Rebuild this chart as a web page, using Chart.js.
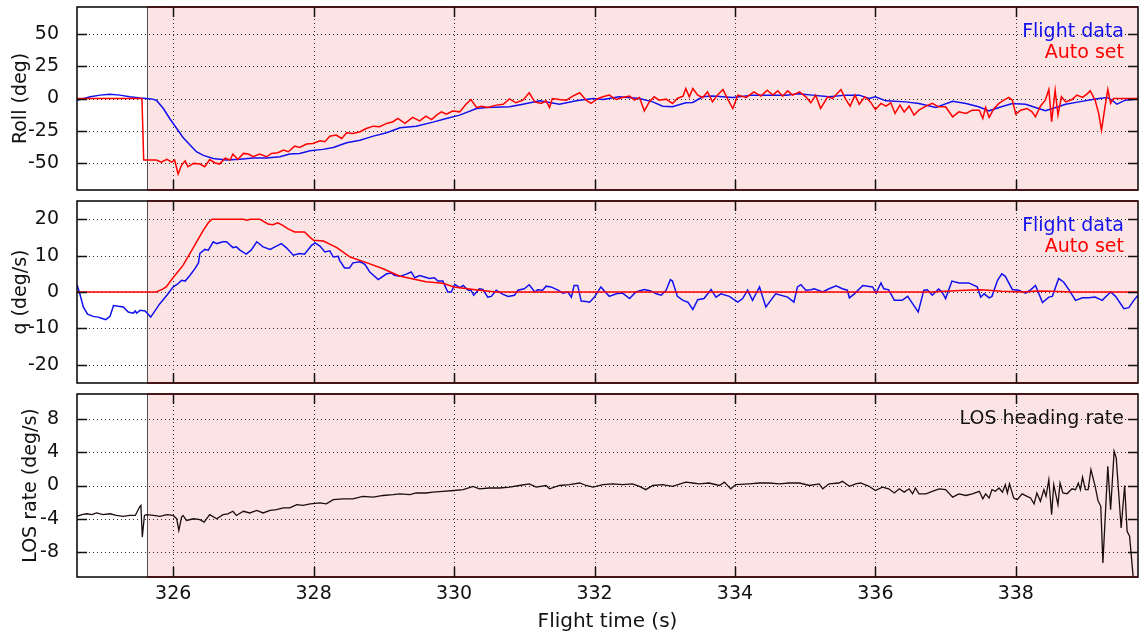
<!DOCTYPE html>
<html>
<head>
<meta charset="utf-8">
<script src="https://cdn.jsdelivr.net/npm/chart.js@4.4.1/dist/chart.umd.min.js"></script>
<style>
  html, body { margin: 0; padding: 0; background: #ffffff; }
  #wrap { position: relative; width: 1139px; height: 633px; overflow: hidden; }
  canvas { position: absolute; left: 0; }
</style>
</head>
<body>
<div id="wrap">
  <canvas id="rollChart" width="1139" height="194" style="top:0px"></canvas>
  <canvas id="qChart" width="1139" height="190" style="top:194px"></canvas>
  <canvas id="losChart" width="1139" height="246" style="top:387px"></canvas>
</div>
<script>
// ---- time axis ----
const timeMin = 324.63;
const timeMax = 339.74;
const autoStart = 325.63;           // start of the automatic-control interval
const timeTicks = [326, 328, 330, 332, 334, 336, 338];

// ---- tick labels for the three panels ----
const rollTicks = [-50, -25, 0, 25, 50];
const qTicks = [-20, -10, 0, 10, 20];
const losTicks = [-8, -4, 0, 4, 8];

// ---- Roll: flight data ----
const rollFlightT = [324.63,324.82,324.96,325.10,325.24,325.38,325.53,325.69,325.76,325.86,325.95,326.05,326.14,326.24,326.33,326.43,326.57,326.76,326.95,327.14,327.33,327.52,327.66,327.80,327.95,328.13,328.28,328.47,328.66,328.85,329.04,329.23,329.46,329.70,329.89,330.08,330.32,330.46,330.79,330.98,331.22,331.50,331.74,331.98,332.12,332.35,332.64,332.83,332.97,333.11,333.30,333.40,333.54,333.68,333.97,334.25,334.49,334.73,334.91,335.10,335.34,335.58,335.77,335.91,336.00,336.15,336.43,336.62,336.86,337.10,337.29,337.47,337.62,337.76,337.95,338.14,338.28,338.42,338.57,338.71,338.90,339.13,339.30,339.37,339.44,339.56,339.74];
const rollFlight = [-1.3,1.3,2.6,3.3,2.6,1.3,0.3,-0.3,-1.3,-7.7,-15.4,-23.1,-30.0,-35.9,-41.0,-43.8,-46.2,-47.4,-46.9,-45.9,-45.9,-44.9,-42.8,-42.3,-40.3,-39.2,-37.7,-34.1,-32.1,-29.0,-26.4,-22.6,-21.3,-18.2,-15.4,-12.8,-7.7,-6.9,-6.4,-4.4,-1.8,-4.4,-1.8,0,-0.8,1.3,0,-2.6,-5.9,-6.4,-3.3,-3.1,1.3,2.0,0.8,2.6,2.6,2.6,3.6,2.6,1.3,2.6,2.6,0,1.3,-1.8,-2.6,-3.8,-6.9,-2.1,-3.8,-6.4,-9.5,-6.9,-3.8,-4.4,-6.9,-9.5,-6.9,-4.4,-2.6,-0.3,0.8,-1.3,-4.4,-1.3,-0.3];

// ---- Roll: auto set ----
const rollAutoT = [324.63,325.555,325.58,325.76,325.83,325.91,325.98,326.02,326.07,326.12,326.17,326.21,326.29,326.38,326.45,326.52,326.59,326.66,326.74,326.81,326.85,326.92,327.00,327.07,327.14,327.23,327.33,327.40,327.49,327.57,327.64,327.73,327.80,327.90,327.99,328.09,328.16,328.23,328.32,328.40,328.47,328.56,328.66,328.75,328.85,328.94,329.04,329.13,329.20,329.30,329.41,329.51,329.60,329.68,329.75,329.82,329.89,329.98,330.08,330.17,330.24,330.32,330.39,330.48,330.60,330.70,330.79,330.88,330.98,331.07,331.15,331.24,331.31,331.36,331.40,331.50,331.60,331.69,331.79,331.88,331.95,332.05,332.12,332.21,332.31,332.40,332.50,332.57,332.64,332.71,332.78,332.85,332.92,333.02,333.11,333.18,333.26,333.30,333.35,333.40,333.47,333.54,333.61,333.68,333.75,333.83,333.90,333.97,334.04,334.16,334.27,334.37,334.46,334.54,334.61,334.68,334.75,334.82,334.92,335.01,335.08,335.15,335.22,335.32,335.39,335.51,335.58,335.64,335.71,335.77,335.85,335.93,336.00,336.08,336.15,336.22,336.28,336.35,336.41,336.48,336.55,336.62,336.72,336.81,336.90,337.00,337.10,337.19,337.29,337.38,337.48,337.53,337.57,337.62,337.69,337.76,337.83,337.90,337.95,338.00,338.07,338.16,338.23,338.28,338.35,338.42,338.47,338.51,338.56,338.60,338.65,338.71,338.80,338.87,338.95,339.02,339.06,339.13,339.18,339.22,339.27,339.31,339.35,339.39,339.74];
const rollAuto = [0,0,-47.4,-47.4,-49,-46.9,-49,-47.4,-58.2,-51.3,-48,-52.6,-50,-50.5,-52.6,-47,-49.5,-50.5,-46,-47.4,-42.8,-47,-42.3,-42.8,-44.9,-42.8,-44.9,-42.3,-41.8,-39.7,-41,-36.7,-37.7,-35.1,-34.6,-32.6,-33.3,-29,-28.2,-30.8,-26.4,-26.9,-25.6,-23.1,-21.3,-21.8,-19.2,-17.9,-15.4,-19.2,-14.6,-17.2,-13.6,-16.2,-12.8,-10.3,-12.1,-9.7,-10.3,-4.4,-0.8,-6.9,-5.9,-6.9,-5.1,-4.4,-0.3,-3.3,-1.3,4.4,-2.6,-3.8,-1.8,-6.9,0,-0.8,-1.3,1.8,4.4,-1.3,-3.8,0,1.3,2.6,-0.8,0.8,1.8,-1.3,0.8,-9.5,-2.6,1.3,-1.3,-0.5,-3.8,0,1.8,7.7,1.3,7.7,2.6,0.8,5.1,-2.6,2.6,6.9,-0.8,-7.7,2.6,0.8,5.1,1.8,6.4,2.6,5.9,1.8,5.9,2.6,5.1,1.3,-3.3,2.6,-7.7,1.3,0,6.9,-0.8,-5.9,2.6,-4.4,1.3,-2.6,-8.5,-3.8,-5.9,-3.3,-11.5,-5.1,-10.3,-5.9,-12.8,-9,-5.9,-3.8,-6.4,-6.4,-14.1,-10.3,-11.5,-9,-9,-15.4,-6.9,-14.6,-7.7,-3.8,-1.3,0.8,-1.3,-12.1,-9,-7.7,-10.3,-14.1,-5.9,-1.3,6.9,-17.9,6.4,-12.8,1.3,-2.6,-0.8,2.6,0.8,3.8,5.9,-1.3,-11.5,-24.4,-6.4,6.9,-3.8,0,0];

// ---- q: flight data ----
const qFlightT = [324.63,324.67,324.72,324.78,324.86,324.93,324.98,325.04,325.10,325.15,325.29,325.36,325.43,325.46,325.48,325.53,325.60,325.68,325.81,325.91,326.00,326.05,326.12,326.17,326.24,326.31,326.36,326.38,326.45,326.50,326.57,326.62,326.71,326.76,326.85,326.90,326.95,327.04,327.11,327.19,327.28,327.38,327.47,327.54,327.61,327.71,327.80,327.87,327.97,328.02,328.09,328.16,328.23,328.28,328.35,328.37,328.44,328.51,328.56,328.66,328.73,328.80,328.92,329.04,329.11,329.15,329.23,329.32,329.39,329.44,329.51,329.58,329.65,329.72,329.77,329.84,329.91,329.96,330.01,330.08,330.13,330.20,330.24,330.28,330.36,330.41,330.48,330.53,330.60,330.69,330.77,330.86,330.91,331.00,331.07,331.15,331.19,331.26,331.31,331.38,331.48,331.55,331.62,331.67,331.71,331.76,331.81,331.88,331.93,332.00,332.09,332.21,332.31,332.40,332.50,332.59,332.71,332.80,332.88,332.95,333.02,333.08,333.11,333.18,333.26,333.33,333.40,333.47,333.56,333.66,333.73,333.80,333.92,334.04,334.11,334.18,334.25,334.35,334.44,334.58,334.75,334.84,334.89,334.94,335.01,335.08,335.13,335.25,335.34,335.44,335.53,335.60,335.63,335.70,335.82,335.96,336.01,336.08,336.12,336.19,336.27,336.38,336.46,336.53,336.61,336.69,336.74,336.81,336.90,336.95,337.00,337.09,337.19,337.33,337.45,337.50,337.55,337.62,337.66,337.74,337.80,337.85,337.95,338.04,338.14,338.21,338.28,338.38,338.47,338.52,338.61,338.68,338.76,338.85,338.95,339.04,339.13,339.23,339.35,339.42,339.54,339.61,339.68,339.74];
const qFlight = [2.0,-0.5,-4.1,-6.1,-6.7,-6.9,-7.2,-7.6,-6.7,-3.7,-4.1,-5.5,-5.8,-5.2,-5.8,-5.0,-5.2,-6.9,-3.2,-0.9,1.4,2.0,3.2,3.0,4.6,6.4,8.0,10.6,11.7,11.5,13.8,13.3,13.8,13.8,12.2,12.4,11.5,10.4,11.5,13.8,12.4,11.7,12.6,13.3,12.2,10.1,10.6,10.4,12.8,13.5,12.6,11.0,11.3,9.6,9.8,8.7,6.6,6.6,8.0,8.3,7.6,5.5,3.4,5.0,5.2,4.6,4.3,4.9,5.5,3.9,4.5,4.1,3.7,3.9,3.0,3.0,0,0,2.1,1.2,1.8,0.5,0.5,-0.9,0.9,0.7,-1.4,-1.2,0.5,-0.6,-1.2,-0.9,0.5,0.9,2.0,0,0.6,0.5,1.6,1.4,0.5,-0.3,0,-1.4,1.8,1.8,-2.5,-2.6,-2.8,-1.4,1.4,-1.2,-0.5,-0.3,-1.8,0,0.7,0.3,-0.5,-0.9,0.5,3.4,3.0,-1.2,-2.3,-2.8,-4.8,-2.1,-1.8,0.7,-1.4,-0.5,-1.2,-2.8,-1.8,0.5,-2.3,1.4,-4.1,-0.5,-1.4,-2.8,1.4,2.0,0.5,0.6,0.9,0,0.9,1.7,0.9,0.5,-1.6,-0.5,1.8,1.4,-0.3,2.5,0.9,0.6,-2.3,-2.3,-1.2,-3.2,-5.5,0.5,0.6,-0.9,0.8,0,-1.8,3.0,2.5,2.5,1.4,-1.4,-0.5,-1.6,-1.2,3.2,5.0,4.3,0.7,0.5,-0.3,0.6,1.8,-2.9,-1.4,-1.2,3.7,2.75,0.5,-2.3,-1.6,-1.6,-1.4,-2.3,0,-1.2,-4.6,-4.3,-2.3,-0.9];

// ---- q: auto set ----
const qAutoT = [324.63,325.76,325.85,325.90,326.00,326.14,326.28,326.43,326.50,326.55,327.00,327.05,327.10,327.23,327.35,327.42,327.49,327.56,327.63,327.73,327.87,327.95,328.00,328.14,328.33,328.52,328.76,328.99,329.22,329.60,329.84,330.00,330.36,330.60,336.80,337.20,337.50,337.80,338.10,338.30,338.50,338.80,339.74];
const qAuto = [0,0,0.8,1.4,4,7.3,12,17,19,20,20,19.7,20,20,18.7,18.5,19,18.3,17.4,16.5,16.5,15,14.2,14,12.2,9.6,8,6.4,4.4,2.8,2.4,1.4,0.5,0,0,0.4,0.6,0.2,0,0.3,0.2,0,0];

// ---- LOS heading rate ----
const losT = [324.63,324.70,324.77,324.84,324.91,325.00,325.10,325.19,325.29,325.38,325.46,325.52,325.54,325.56,325.59,325.62,325.72,325.81,325.91,326.00,326.05,326.08,326.12,326.14,326.19,326.29,326.38,326.44,326.52,326.62,326.71,326.78,326.85,326.90,327.00,327.09,327.19,327.28,327.38,327.47,327.57,327.66,327.76,327.85,327.95,328.09,328.18,328.28,328.42,328.56,328.70,328.85,328.99,329.13,329.23,329.37,329.46,329.60,329.70,329.84,330.00,330.13,330.27,330.36,330.50,330.65,330.79,330.93,331.07,331.17,331.31,331.36,331.50,331.64,331.79,331.88,331.98,332.12,332.26,332.40,332.54,332.64,332.73,332.83,332.97,333.11,333.30,333.40,333.49,333.63,333.78,333.85,333.94,334.01,334.20,334.35,334.49,334.63,334.77,334.92,335.06,335.20,335.25,335.34,335.48,335.53,335.63,335.72,335.79,335.91,336.00,336.10,336.19,336.27,336.34,336.41,336.48,336.53,336.57,336.62,336.72,336.81,336.91,337.00,337.10,337.19,337.29,337.38,337.48,337.53,337.57,337.62,337.66,337.71,337.76,337.81,337.85,337.88,337.91,337.97,338.02,338.09,338.16,338.21,338.26,338.30,338.35,338.40,338.43,338.47,338.51,338.54,338.57,338.60,338.63,338.67,338.73,338.80,338.85,338.89,338.92,338.95,338.99,339.03,339.07,339.13,339.17,339.21,339.24,339.31,339.35,339.40,339.43,339.50,339.55,339.585,339.62,339.66,339.70];
const losRate = [-3.7,-3.5,-3.4,-3.5,-3.3,-3.5,-3.4,-3.6,-3.7,-3.6,-3.6,-2.6,-2.4,-6.2,-3.6,-3.5,-3.6,-3.7,-3.5,-3.6,-4.0,-5.4,-3.8,-3.6,-4.2,-4.0,-4.1,-4.4,-3.5,-4.0,-3.5,-3.4,-3.1,-3.6,-3.1,-3.3,-3.0,-3.3,-3.0,-2.9,-2.7,-2.7,-2.3,-2.4,-2.2,-2.1,-2.2,-1.7,-1.6,-1.6,-1.3,-1.4,-1.2,-1.1,-1.0,-1.1,-0.9,-0.9,-0.8,-0.7,-0.6,-0.5,-0.1,-0.4,-0.3,-0.3,-0.2,0,0.2,-0.2,0,-0.4,0,0.1,0.3,0,-0.2,0.1,0.2,0.1,0.2,-0.1,-0.5,0,0.1,-0.1,0.4,0.3,0.2,0.3,0,0.4,-0.4,0.1,0.2,0.3,0.3,0.2,0.3,0.3,0,0.2,-0.4,0.2,0.3,0.5,-0.1,0.2,0.3,-0.1,-0.6,-0.2,-0.4,-0.9,-0.4,-0.8,-0.4,-1.0,-0.3,-1.0,-1.0,-0.7,-0.4,-0.5,-1.4,-1.0,-1.2,-1.0,-0.7,-1.6,-1.0,-1.5,-0.5,-0.7,-0.3,-0.8,0.1,-0.9,0.2,-1.5,-1.7,-1.0,-1.3,-1.5,-2.2,-0.9,-1.9,-0.5,-1.3,0.7,-3.5,0.1,-1.1,-2.3,0.3,-0.9,-1.0,-0.4,-0.5,0.3,-0.5,1.0,-0.5,-0.5,1.9,-0.1,-1.8,-2.5,-9.3,2.3,-2.9,4.1,3.3,-5.1,0,-5.5,-6.1,-9.9,-14];

const FONT = 'DejaVu Sans';
const BLUE = '#1010f0';
const RED = '#ff0000';

const pairs = (ts, vs) => ts.map((t, i) => ({ x: t, y: vs[i] }));

// Shaded auto interval, dotted grid, frame with inward ticks and in-plot labels
const panelDecor = {
  id: 'panelDecor',
  beforeDatasetsDraw(chart, args, opts) {
    const { ctx, chartArea: a, scales: { x, y } } = chart;
    const xs = x.getPixelForValue(opts.shadeFrom);
    ctx.save();
    ctx.fillStyle = '#fde4e4';
    ctx.fillRect(xs, a.top, a.right - xs, a.bottom - a.top);

    ctx.strokeStyle = 'rgba(20,20,20,0.9)';
    ctx.lineWidth = 1;
    ctx.setLineDash([1, 3]);
    ctx.beginPath();
    for (const v of opts.yTicks) {
      const py = Math.round(y.getPixelForValue(v)) + 0.5;
      ctx.moveTo(a.left, py); ctx.lineTo(a.right, py);
    }
    for (const v of opts.xTicks) {
      const px = Math.round(x.getPixelForValue(v)) + 0.5;
      ctx.moveTo(px, a.top); ctx.lineTo(px, a.bottom);
    }
    ctx.stroke();
    ctx.setLineDash([]);

    ctx.strokeStyle = '#505050';
    ctx.lineWidth = 1;
    ctx.beginPath();
    ctx.moveTo(Math.round(xs) + 0.5, a.top);
    ctx.lineTo(Math.round(xs) + 0.5, a.bottom);
    ctx.stroke();
    ctx.restore();
  },
  afterDatasetsDraw(chart, args, opts) {
    const { ctx, chartArea: a, scales: { x, y } } = chart;
    const xs = x.getPixelForValue(opts.shadeFrom);
    ctx.save();
    // frame
    ctx.strokeStyle = '#000';
    ctx.lineWidth = 1.5;
    ctx.strokeRect(a.left, a.top, a.right - a.left, a.bottom - a.top);
    ctx.strokeStyle = '#4a0a0a';
    ctx.beginPath();
    ctx.moveTo(xs, a.top); ctx.lineTo(a.right, a.top);
    ctx.moveTo(xs, a.bottom); ctx.lineTo(a.right, a.bottom);
    ctx.stroke();

    // inward tick marks
    const len = 10;
    ctx.strokeStyle = '#111';
    ctx.lineWidth = 1.5;
    ctx.beginPath();
    for (const v of opts.xTicks) {
      const px = Math.round(x.getPixelForValue(v)) + 0.5;
      ctx.moveTo(px, a.top); ctx.lineTo(px, a.top + len);
      ctx.moveTo(px, a.bottom); ctx.lineTo(px, a.bottom - len);
    }
    for (const v of opts.yTicks) {
      const py = Math.round(y.getPixelForValue(v)) + 0.5;
      ctx.moveTo(a.left, py); ctx.lineTo(a.left + len, py);
      ctx.moveTo(a.right, py); ctx.lineTo(a.right - len, py);
    }
    ctx.stroke();

    // in-plot labels
    ctx.font = '19px "' + FONT + '"';
    ctx.textAlign = 'right';
    ctx.textBaseline = 'middle';
    opts.labels.forEach((lab, i) => {
      ctx.fillStyle = lab.color;
      ctx.fillText(lab.text, 1124, a.top + 25 + i * 21);
    });
    ctx.restore();
  }
};

function fixedTicks(list) {
  return (scale) => { scale.ticks = list.map(v => ({ value: v })); };
}

function noScalePadding(scale) {
  scale.paddingTop = 0;
  scale.paddingBottom = 0;
  scale.paddingLeft = 0;
  scale.paddingRight = 0;
}

function makePanel(id, cfg) {
  const xScale = {
    type: 'linear',
    min: timeMin,
    max: timeMax,
    display: cfg.showX,
    afterBuildTicks: fixedTicks(timeTicks),
    afterFit: (s) => { noScalePadding(s); if (cfg.showX) s.height = 56; },
    grid: { display: false },
    border: { display: false },
    ticks: {
      font: { family: FONT, size: 19 },
      color: '#111',
      padding: -2,
      maxRotation: 0,
      callback: (v) => String(v)
    },
    title: {
      display: cfg.showX,
      text: 'Flight time (s)',
      font: { family: FONT, size: 20 },
      color: '#111',
      padding: { top: 0, bottom: -1 }
    }
  };
  return new Chart(document.getElementById(id), {
    type: 'line',
    data: { datasets: cfg.datasets },
    options: {
      responsive: false,
      animation: false,
      events: [],
      layout: { padding: { top: 7, bottom: cfg.padBottom, left: 0, right: 1 } },
      elements: { point: { radius: 0 }, line: { tension: 0, borderWidth: 1.5 } },
      plugins: {
        legend: { display: false },
        tooltip: { enabled: false },
        panelDecor: {
          shadeFrom: autoStart,
          xTicks: timeTicks,
          yTicks: cfg.yTicks,
          labels: cfg.labels
        }
      },
      scales: {
        x: xScale,
        y: {
          type: 'linear',
          min: cfg.yMin,
          max: cfg.yMax,
          afterBuildTicks: fixedTicks(cfg.yTicks),
          afterFit: (s) => { noScalePadding(s); s.width = 77; },
          grid: { display: false },
          border: { display: false },
          ticks: {
            font: { family: FONT, size: 19 },
            color: '#111',
            padding: 10,
            callback: (v) => String(v)
          },
          title: {
            display: true,
            text: cfg.yTitle,
            font: { family: FONT, size: 19 },
            color: '#111',
            padding: { top: cfg.titlePad, bottom: 0 }
          }
        }
      }
    },
    plugins: [panelDecor]
  });
}

makePanel('rollChart', {
  showX: false,
  padBottom: 4,
  yMin: -70.5, yMax: 70.5,
  yTicks: rollTicks,
  yTitle: 'Roll (deg)',
  titlePad: 10,
  labels: [{ text: 'Flight data', color: BLUE }, { text: 'Auto set', color: RED }],
  datasets: [
    { label: 'Auto set', data: pairs(rollAutoT, rollAuto), borderColor: RED },
    { label: 'Flight data', data: pairs(rollFlightT, rollFlight), borderColor: BLUE }
  ]
});

makePanel('qChart', {
  showX: false,
  padBottom: 1,
  yMin: -25, yMax: 25,
  yTicks: qTicks,
  yTitle: 'q (deg/s)',
  titlePad: 10,
  labels: [{ text: 'Flight data', color: BLUE }, { text: 'Auto set', color: RED }],
  datasets: [
    { label: 'Auto set', data: pairs(qAutoT, qAuto), borderColor: RED },
    { label: 'Flight data', data: pairs(qFlightT, qFlight), borderColor: BLUE }
  ]
});

makePanel('losChart', {
  showX: true,
  padBottom: 0,
  yMin: -11, yMax: 11,
  yTicks: losTicks,
  yTitle: 'LOS rate (deg/s)',
  titlePad: 20,
  labels: [{ text: 'LOS heading rate', color: '#111' }],
  datasets: [
    { label: 'LOS heading rate', data: pairs(losT, losRate), borderColor: '#1a0d0d', borderWidth: 1.3 }
  ]
});
</script>
</body>
</html>
